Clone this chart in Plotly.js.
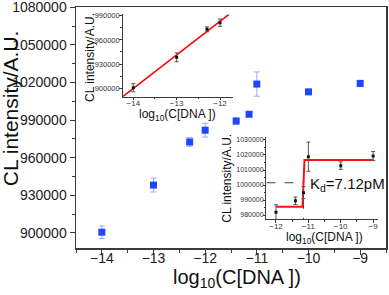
<!DOCTYPE html>
<html>
<head>
<meta charset="utf-8">
<script src="https://cdn.plot.ly/plotly-3.0.1.min.js"></script>
<style>html,body{margin:0;padding:0;background:#fff;}#chart{width:389px;height:295px;}</style>
</head>
<body>
<div id="chart"></div>
<script>
// Main panel data
const mainX = [-14, -13, -12.3, -12, -11.4, -11.15, -11, -10, -9];
const mainY = [900600, 938200, 972600, 982000, 989300, 994700, 1018800, 1012600, 1019300];
const mainErr = [5000, 5500, 3500, 5500, 2500, 1500, 9700, 1500, 2500];

// Inset 1 (linear range)
const ins1X = [-14, -13, -12.3, -12];
const ins1Y = [900700, 938400, 973100, 981300];
const ins1Err = [5000, 5500, 3000, 4500];
const fit1X = [-14.25, -11.8];
const fit1Y = [889400, 991400];

// Inset 2 (binding curve)
const ins2X = [-12, -11.4, -11.15, -11, -10, -9];
const ins2Y = [981800, 989500, 994900, 1018900, 1012900, 1019300];
const ins2Err = [5000, 2500, 4000, 9700, 2500, 3000];
const fit2X = [-12, -11.18, -11.12, -9];
const fit2Y = [985500, 985500, 1016700, 1016700];
const kdX = -11.15;
const halfY = 1001500;

// Tick values
const mainYTicks = [900000, 930000, 960000, 990000, 1020000, 1050000, 1080000];
const mainXTicks = [-14, -13, -12, -11, -10, -9];
const ins1YTicks = [900000, 930000, 960000, 990000];
const ins1XTicks = [-14, -13, -12];
const ins2YTicks = [980000, 990000, 1000000, 1010000, 1020000, 1030000];
const ins2XTicks = [-12, -11, -10, -9];

const FONT = 'Liberation Sans, Arial, sans-serif';
const AX = '#3a3a3a';

const traces = [
  {x: mainX, y: mainY, type: 'scatter', mode: 'markers', xaxis: 'x', yaxis: 'y',
   marker: {symbol: 'square', size: 7, color: '#1f45ff'},
   error_y: {type: 'data', array: mainErr, visible: true, color: '#9aa8ff', thickness: 1, width: 3}},
  {x: fit1X, y: fit1Y, type: 'scatter', mode: 'lines', xaxis: 'x2', yaxis: 'y2',
   line: {color: '#ff0000', width: 1.5}},
  {x: ins1X, y: ins1Y, type: 'scatter', mode: 'markers', xaxis: 'x2', yaxis: 'y2',
   marker: {symbol: 'square', size: 3, color: '#111'},
   error_y: {type: 'data', array: ins1Err, visible: true, color: '#555', thickness: 1, width: 2}},
  {x: [ins2X[0] - 0.293, kdX, kdX], y: [halfY, halfY, 977130], type: 'scatter', mode: 'lines', xaxis: 'x3', yaxis: 'y3',
   line: {color: '#444', width: 1, dash: 'dash'}},
  {x: fit2X, y: fit2Y, type: 'scatter', mode: 'lines', xaxis: 'x3', yaxis: 'y3',
   line: {color: '#ff1010', width: 2}},
  {x: ins2X, y: ins2Y, type: 'scatter', mode: 'markers', xaxis: 'x3', yaxis: 'y3',
   marker: {symbol: 'square', size: 3, color: '#111'},
   error_y: {type: 'data', array: ins2Err, visible: true, color: '#555', thickness: 1, width: 2}}
];

function axBase(extra) {
  return Object.assign({
    showline: true, linecolor: AX, linewidth: 1.2, ticks: 'outside', tickcolor: AX,
    showgrid: false, zeroline: false, fixedrange: true, ticklabeloverflow: 'allow',
    tickfont: {family: FONT, color: '#222'}
  }, extra);
}

const layout = {
  width: 389, height: 295,
  margin: {l: 76, r: 3, t: 7, b: 47},
  paper_bgcolor: '#fff', plot_bgcolor: '#fff',
  showlegend: false,
  xaxis: axBase({range: [-14.5, -8.5], tickvals: mainXTicks, mirror: true, ticklen: 5, linewidth: 1.5,
    ticklabelstandoff: -8,
    tickfont: {family: FONT, size: 14, color: '#222'},
    minor: {dtick: 0.5, ticks: 'outside', ticklen: 3, tickcolor: AX}}),
  yaxis: axBase({range: [888000, 1080300], tickvals: mainYTicks, tickformat: 'd', mirror: true, ticklen: 5, linewidth: 1.5,
    tickfont: {family: FONT, size: 14, color: '#222'},
    minor: {dtick: 15000, ticks: 'outside', ticklen: 3, tickcolor: AX}}),
  xaxis2: axBase({domain: [0.1506, 0.5065], anchor: 'y2', range: [-14.245, -11.7], tickvals: ins1XTicks,
    ticklen: 2.5, linewidth: 1, ticklabelstandoff: -4, tickfont: {family: FONT, size: 8, color: '#333'},
    minor: {dtick: 0.5, ticks: 'outside', ticklen: 1.5, tickcolor: AX}}),
  yaxis2: axBase({domain: [0.6278, 0.9697], anchor: 'x2', range: [889600, 991700], tickvals: ins1YTicks, tickformat: 'd',
    ticklen: 2.5, linewidth: 1, ticklabelstandoff: -2, tickfont: {family: FONT, size: 7.5, color: '#333'},
    minor: {dtick: 15000, ticks: 'outside', ticklen: 1.5, tickcolor: AX}}),
  xaxis3: axBase({domain: [0.6145, 0.974], anchor: 'y3', range: [-12.293, -8.852], tickvals: ins2XTicks,
    ticklen: 2.5, linewidth: 1, ticklabelstandoff: -3, tickfont: {family: FONT, size: 8, color: '#333'},
    minor: {dtick: 0.5, ticks: 'outside', ticklen: 1.5, tickcolor: AX}}),
  yaxis3: axBase({domain: [0.119, 0.4606], anchor: 'x3', range: [977130, 1032000], tickvals: ins2YTicks, tickformat: 'd',
    ticklen: 2.5, linewidth: 1, ticklabelstandoff: -2, tickfont: {family: FONT, size: 7, color: '#333'},
    minor: {dtick: 5000, ticks: 'outside', ticklen: 1.5, tickcolor: AX}}),
  annotations: [
    {text: 'CL intensity/A.U.', xref: 'paper', yref: 'paper', x: -0.213, y: 0.58, textangle: -90,
     showarrow: false, font: {family: FONT, size: 21, color: '#111'}, xanchor: 'center', yanchor: 'middle'},
    {text: 'log<sub>10</sub>(C[DNA ])', xref: 'paper', yref: 'paper', x: 0.519, y: -0.126,
     showarrow: false, font: {family: FONT, size: 20, color: '#111'}, xanchor: 'center', yanchor: 'middle'},
    {text: 'CL intensity/A.U.', xref: 'paper', yref: 'paper', x: 0.045, y: 0.7925, textangle: -90,
     showarrow: false, font: {family: FONT, size: 12, color: '#111'}, xanchor: 'center', yanchor: 'middle'},
    {text: 'log<sub>10</sub>(C[DNA ])', xref: 'paper', yref: 'paper', x: 0.327, y: 0.553,
     showarrow: false, font: {family: FONT, size: 12, color: '#111'}, xanchor: 'center', yanchor: 'middle'},
    {text: 'CL intensity/A.U.', xref: 'paper', yref: 'paper', x: 0.486, y: 0.29, textangle: -90,
     showarrow: false, font: {family: FONT, size: 12, color: '#111'}, xanchor: 'center', yanchor: 'middle'},
    {text: 'log<sub>10</sub>(C[DNA ])', xref: 'paper', yref: 'paper', x: 0.8, y: 0.042,
     showarrow: false, font: {family: FONT, size: 12, color: '#111'}, xanchor: 'center', yanchor: 'middle'},
    {text: 'K<sub>d</sub>=7.12pM', xref: 'x3', yref: 'y3', x: -11.02, y: 1000500,
     showarrow: false, font: {family: FONT, size: 15, color: '#111'}, xanchor: 'left', yanchor: 'middle'}
  ]
};

Plotly.newPlot('chart', traces, layout, {displayModeBar: false, staticPlot: true});
</script>
</body>
</html>
